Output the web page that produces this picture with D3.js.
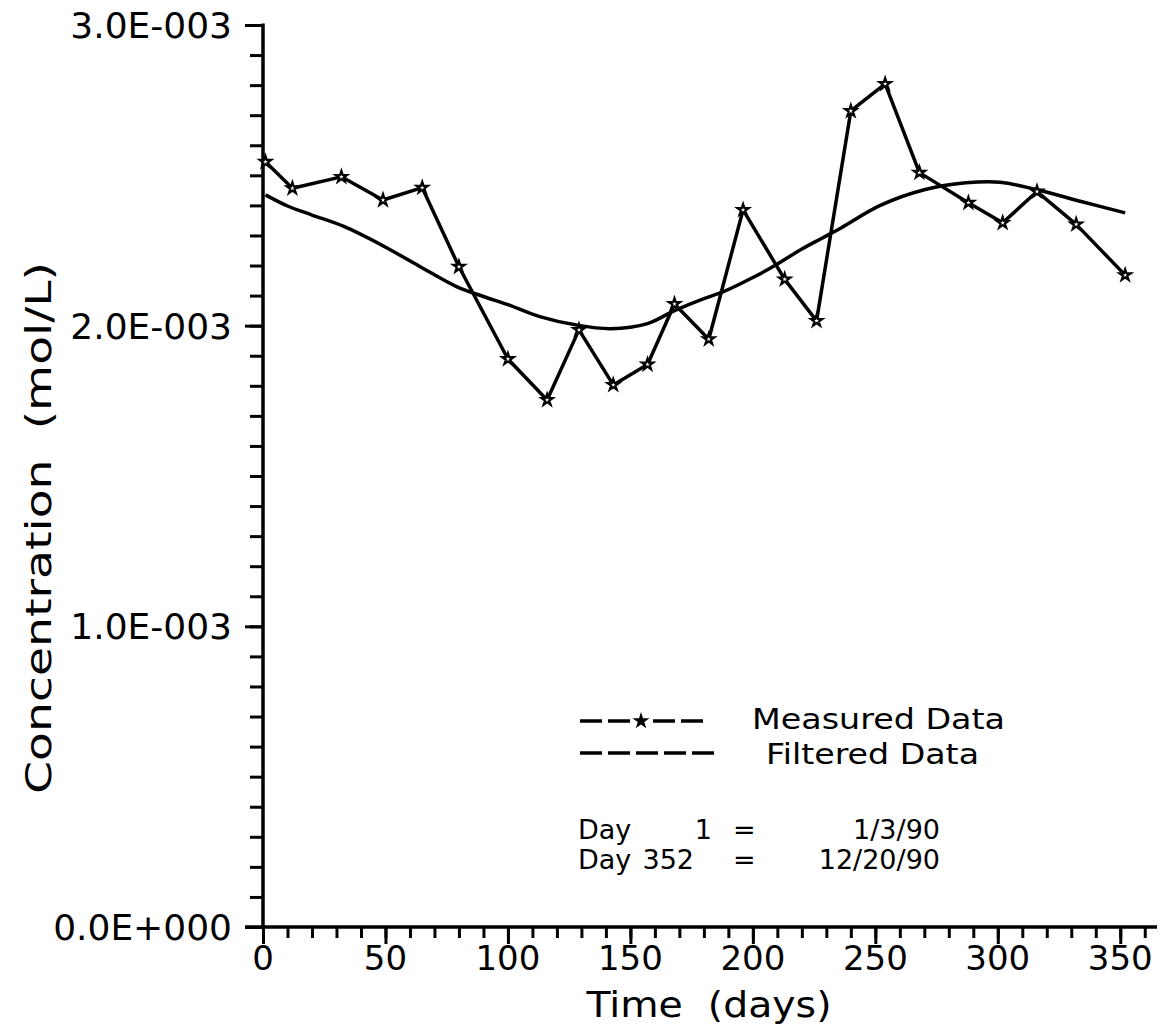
<!DOCTYPE html>
<html>
<head>
<meta charset="utf-8">
<script src="https://cdn.jsdelivr.net/npm/d3@7"></script>
<style>
  body { margin: 0; background: #fff; }
  text { font-family: "DejaVu Sans", sans-serif; fill: #000; }
</style>
</head>
<body>
<svg id="chart" width="1170" height="1029"></svg>
<script>
// Measured concentrations (day number, mol/L)
const measuredDays = [1, 12, 32, 49, 65, 80, 100, 116, 129, 143, 157, 168, 182, 196, 213, 226, 240, 254, 268, 288, 302, 316, 332, 352];
const measuredConc = [2.545e-3, 2.457e-3, 2.495e-3, 2.418e-3, 2.459e-3, 2.196e-3, 1.889e-3, 1.753e-3, 1.986e-3, 1.803e-3,
                      1.871e-3, 2.072e-3, 1.955e-3, 2.385e-3, 2.154e-3, 2.016e-3, 2.714e-3, 2.804e-3, 2.509e-3, 2.409e-3,
                      2.342e-3, 2.446e-3, 2.337e-3, 2.168e-3];

// Low-pass filtered record
const filteredDays = [1, 10, 20, 33, 48, 64, 79, 90, 100, 113, 128, 142, 157, 168, 180, 188, 200, 209, 220, 228, 236, 252, 270, 287, 301, 316, 334, 352];
const filteredConc = [2.435e-3, 2.398e-3, 2.368e-3, 2.330e-3, 2.270e-3, 2.197e-3, 2.130e-3, 2.097e-3, 2.070e-3, 2.030e-3,
                      2.002e-3, 1.990e-3, 2.007e-3, 2.050e-3, 2.090e-3, 2.113e-3, 2.160e-3, 2.200e-3, 2.255e-3, 2.290e-3,
                      2.325e-3, 2.400e-3, 2.452e-3, 2.475e-3, 2.477e-3, 2.452e-3, 2.413e-3, 2.375e-3];

const yTickValues = [0, 1e-3, 2e-3, 3e-3];
const yTickLabels = ["0.0E+000", "1.0E-003", "2.0E-003", "3.0E-003"];
const xTickValues = [0, 50, 100, 150, 200, 250, 300, 350];
const xTickLabels = ["0", "50", "100", "150", "200", "250", "300", "350"];

const legendLabels = ["Measured Data", "Filtered Data"];
const dateNotes = [
  { label: "Day", day: "1", date: "1/3/90" },
  { label: "Day", day: "352", date: "12/20/90" }
];

const svg = d3.select("#chart");

const x = d3.scaleLinear().domain([0, 365]).range([263, 1157]);
const y = d3.scaleLinear().domain([0, 3e-3]).range([927, 25]);

const ink = "#000";
const lineW = 3.5;

// ----- y axis: line, minor ticks every 1e-4, major every 1e-3 -----
const yMinor = d3.range(0, 31).map(i => i * 1e-4);
const yAxisMinor = d3.axisLeft(y).tickValues(yMinor).tickSize(13).tickFormat("");
const yAxisMajor = d3.axisLeft(y).tickValues(yTickValues).tickSize(18).tickFormat("");
[yAxisMinor, yAxisMajor].forEach(ax => {
  const g = svg.append("g").attr("transform", `translate(${x(0)},0)`).call(ax);
  g.select(".domain").remove();
  g.selectAll("line").attr("stroke", ink).attr("stroke-width", 3);
});
svg.append("line")
  .attr("x1", x(0)).attr("x2", x(0))
  .attr("y1", y(3e-3) - 1.5).attr("y2", y(0))
  .attr("stroke", ink).attr("stroke-width", lineW);

svg.append("g").selectAll("text")
  .data(yTickValues)
  .join("text")
  .attr("x", 232)
  .attr("y", d => y(d) + 13)
  .attr("text-anchor", "end")
  .attr("font-size", 36)
  .text((d, i) => yTickLabels[i]);

// ----- x axis: minor ticks every 10 days, major every 50 -----
const xMinor = d3.range(0, 37).map(i => i * 10);
const xAxisMinor = d3.axisBottom(x).tickValues(xMinor).tickSize(11).tickFormat("");
const xAxisMajor = d3.axisBottom(x).tickValues(xTickValues).tickSize(17).tickFormat("");
[xAxisMinor, xAxisMajor].forEach(ax => {
  const g = svg.append("g").attr("transform", `translate(0,${y(0)})`).call(ax);
  g.select(".domain").remove();
  g.selectAll("line").attr("stroke", ink).attr("stroke-width", 3);
});
svg.append("line")
  .attr("x1", x(0) - 18).attr("x2", x(365))
  .attr("y1", y(0)).attr("y2", y(0))
  .attr("stroke", ink).attr("stroke-width", lineW);

svg.append("g").selectAll("text")
  .data(xTickValues)
  .join("text")
  .attr("x", d => x(d))
  .attr("y", 970)
  .attr("text-anchor", "middle")
  .attr("font-size", 34)
  .text((d, i) => xTickLabels[i]);

// ----- axis titles -----
svg.append("text")
  .attr("x", 709).attr("y", 1017)
  .attr("text-anchor", "middle")
  .attr("font-size", 36)
  .attr("textLength", 245)
  .attr("lengthAdjust", "spacingAndGlyphs")
  .attr("xml:space", "preserve")
  .text("Time  (days)");

svg.append("text")
  .attr("transform", "translate(51,528) rotate(-90)")
  .attr("text-anchor", "middle")
  .attr("font-size", 36)
  .attr("textLength", 532)
  .attr("lengthAdjust", "spacingAndGlyphs")
  .attr("xml:space", "preserve")
  .text("Concentration  (mol/L)");

// ----- series -----
const measured = measuredDays.map((d, i) => ({ day: d, c: measuredConc[i] }));
const filtered = filteredDays.map((d, i) => ({ day: d, c: filteredConc[i] }));

svg.append("path")
  .datum(filtered)
  .attr("d", d3.line().x(d => x(d.day)).y(d => y(d.c)).curve(d3.curveCatmullRom.alpha(0.5)))
  .attr("fill", "none")
  .attr("stroke", ink)
  .attr("stroke-width", lineW)
  .attr("stroke-linejoin", "round");

svg.append("path")
  .datum(measured)
  .attr("d", d3.line().x(d => x(d.day)).y(d => y(d.c)))
  .attr("fill", "none")
  .attr("stroke", ink)
  .attr("stroke-width", lineW)
  .attr("stroke-linejoin", "round");

const star = d3.symbol().type(d3.symbolStar).size(40);
svg.append("g").selectAll("path")
  .data(measured)
  .join("path")
  .attr("transform", d => `translate(${x(d.day)},${y(d.c)})`)
  .attr("d", star)
  .attr("fill", "#fff")
  .attr("stroke", ink)
  .attr("stroke-width", 2.2);

// ----- legend -----
const legend = svg.append("g");
const dash = "22,6";
legend.append("line").attr("x1", 580).attr("x2", 630).attr("y1", 721).attr("y2", 721)
  .attr("stroke", ink).attr("stroke-width", lineW).attr("stroke-dasharray", dash);
legend.append("line").attr("x1", 653).attr("x2", 703).attr("y1", 721).attr("y2", 721)
  .attr("stroke", ink).attr("stroke-width", lineW).attr("stroke-dasharray", dash);
legend.append("path").attr("transform", "translate(641,721)")
  .attr("d", d3.symbol().type(d3.symbolStar).size(90)).attr("fill", ink);
legend.append("line").attr("x1", 580).attr("x2", 714).attr("y1", 753).attr("y2", 753)
  .attr("stroke", ink).attr("stroke-width", lineW).attr("stroke-dasharray", dash);

legend.append("text").attr("x", 752).attr("y", 729).attr("font-size", 29)
  .attr("textLength", 253).attr("lengthAdjust", "spacingAndGlyphs").text(legendLabels[0]);
legend.append("text").attr("x", 766).attr("y", 764).attr("font-size", 29)
  .attr("textLength", 213).attr("lengthAdjust", "spacingAndGlyphs").text(legendLabels[1]);

// ----- day-to-date notes -----
const notes = svg.append("g");
dateNotes.forEach((n, i) => {
  const by = 839 + i * 30;
  notes.append("text").attr("x", 578).attr("y", by).attr("font-size", 27).text(n.label);
  notes.append("text").attr("x", i === 0 ? 712 : 694).attr("y", by).attr("text-anchor", "end")
    .attr("font-size", 27).text(n.day);
  notes.append("text").attr("x", 733).attr("y", by).attr("font-size", 27).text("=");
  notes.append("text").attr("x", 940).attr("y", by).attr("text-anchor", "end")
    .attr("font-size", 27).text(n.date);
});
</script>
</body>
</html>
